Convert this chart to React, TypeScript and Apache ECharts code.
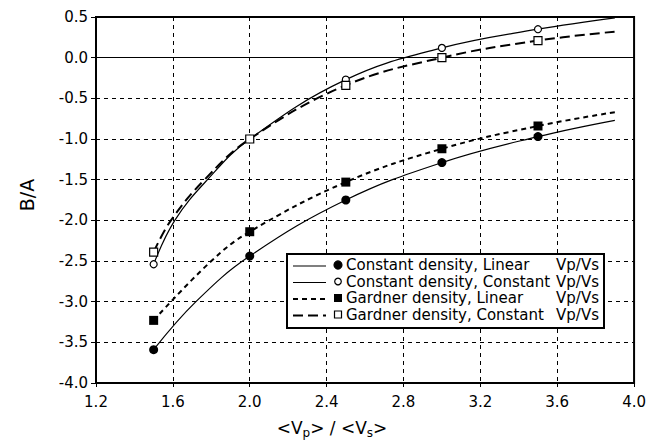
import React, { useEffect, useRef } from "react";
import * as echarts from "echarts";

// Marker positions (x) and values
const xPoints = [1.5, 2.0, 2.5, 3.0, 3.5];
const constLinear = [-3.59, -2.44, -1.75, -1.29, -0.97];
const constConst = [-2.54, -1.0, -0.27, 0.12, 0.35];
const gardLinear = [-3.23, -2.14, -1.53, -1.12, -0.84];
const gardConst = [-2.39, -1.0, -0.34, 0.0, 0.21];

// Fitted curves
const constLinearCurveX = [1.5, 1.72, 2.0, 2.5, 3.0, 3.5, 3.9];
const constLinearCurveY = [-3.59, -3.0, -2.44, -1.75, -1.29, -0.97, -0.77];
const constConstCurveX = [1.5, 1.61, 1.78, 2.0, 2.5, 3.0, 3.5, 3.9];
const constConstCurveY = [-2.54, -2.0, -1.5, -1.0, -0.27, 0.12, 0.35, 0.49];
const gardLinearCurveX = [1.5, 1.8, 2.0, 2.5, 3.0, 3.5, 3.9];
const gardLinearCurveY = [-3.23, -2.5, -2.14, -1.53, -1.12, -0.84, -0.67];
const gardConstCurveX = [1.5, 1.59, 1.765, 2.0, 2.5, 3.0, 3.5, 3.9];
const gardConstCurveY = [-2.39, -2.0, -1.5, -1.0, -0.34, 0.0, 0.21, 0.32];

const legendLabels = [
  "Constant density, Linear",
  "Constant density, Constant",
  "Gardner density, Linear",
  "Gardner density, Constant",
];
const legendSuffix = "Vp/Vs";

const FONT = "DejaVu Sans";

function zip(xs: number[], ys: number[]) {
  return xs.map((x, i) => [x, ys[i]]);
}

export default function App() {
  const ref = useRef<HTMLDivElement>(null);
  useEffect(() => {
    const chart = echarts.init(ref.current!, undefined, { renderer: "svg" });
    const black = "#000";
    const lineSeries = (data: number[][], type: any, width: number) => ({
      type: "line",
      data,
      smooth: 0.4,
      showSymbol: false,
      symbol: "none",
      lineStyle: { color: black, width, type },
      z: 3,
    });
    const scatter = (data: number[][], symbol: string, filled: boolean, size: number) => ({
      type: "scatter",
      data,
      symbol,
      symbolSize: size,
      itemStyle: {
        color: filled ? black : "#fff",
        borderColor: black,
        borderWidth: filled ? 0 : 1.2,
        opacity: 1,
      },
      z: 5,
    });
    const rowY = [265, 281.5, 298, 314.5];
    const legendGraphics: any[] = [
      {
        type: "rect",
        shape: { x: 287, y: 254, width: 317, height: 74 },
        style: { fill: "#fff", stroke: black, lineWidth: 2 },
        z: 10,
      },
    ];
    const lineTypes: any[] = [
      { lineDash: null, lineWidth: 1.2 },
      { lineDash: null, lineWidth: 1.2 },
      { lineDash: [5, 4], lineWidth: 2 },
      { lineDash: [10, 5], lineWidth: 2 },
    ];
    rowY.forEach((y, i) => {
      legendGraphics.push({
        type: "line",
        shape: { x1: 293, y1: y + 1, x2: 326, y2: y + 1 },
        style: { stroke: black, lineWidth: lineTypes[i].lineWidth, lineDash: lineTypes[i].lineDash },
        z: 11,
      });
      if (i < 2) {
        legendGraphics.push({
          type: "circle",
          shape: { cx: 338, cy: y, r: i === 0 ? 4 : 3.3 },
          style: { fill: i === 0 ? black : "#fff", stroke: black, lineWidth: 1.2 },
          z: 11,
        });
      } else {
        const s = i === 2 ? 8 : 7;
        legendGraphics.push({
          type: "rect",
          shape: { x: 338 - s / 2, y: y - s / 2, width: s, height: s },
          style: { fill: i === 2 ? black : "#fff", stroke: black, lineWidth: i === 2 ? 0 : 1.2 },
          z: 11,
        });
      }
      legendGraphics.push({
        type: "text",
        x: 346,
        y,
        style: {
          text: legendLabels[i],
          font: `15px "${FONT}"`,
          fill: black,
          textVerticalAlign: "middle",
          textAlign: "left",
        },
        z: 11,
      });
      legendGraphics.push({
        type: "text",
        x: 599,
        y,
        style: {
          text: legendSuffix,
          font: `15px "${FONT}"`,
          fill: black,
          textVerticalAlign: "middle",
          textAlign: "right",
        },
        z: 11,
      });
    });

    chart.setOption({
      animation: false,
      backgroundColor: "#fff",
      textStyle: { fontFamily: FONT },
      grid: {
        left: 96,
        top: 17,
        right: 13,
        bottom: 57,
        show: true,
        borderColor: black,
        borderWidth: 2,
        backgroundColor: "transparent",
      },
      xAxis: {
        type: "value",
        min: 1.2,
        max: 4.0,
        interval: 0.4,
        axisLine: { show: true, onZero: false, lineStyle: { color: black, width: 2 } },
        axisTick: { show: true, inside: false, length: 4, lineStyle: { color: black, width: 1 } },
        axisLabel: {
          color: black,
          fontSize: 15,
          fontFamily: FONT,
          margin: 11,
          formatter: (v: number) => v.toFixed(1),
        },
        splitLine: { show: true, lineStyle: { color: black, width: 1, type: [4, 4] } },
      },
      yAxis: {
        type: "value",
        min: -4.0,
        max: 0.5,
        interval: 0.5,
        axisLine: { show: true, onZero: false, lineStyle: { color: black, width: 2 } },
        axisTick: { show: true, inside: false, length: 5, lineStyle: { color: black, width: 1 } },
        axisLabel: {
          color: black,
          fontSize: 15,
          fontFamily: FONT,
          margin: 8,
          formatter: (v: number) => v.toFixed(1),
        },
        splitLine: { show: true, lineStyle: { color: black, width: 1, type: [4, 4] } },
      },
      series: [
        {
          ...lineSeries(zip(constLinearCurveX, constLinearCurveY), "solid", 1.2),
          markLine: {
            silent: true,
            symbol: "none",
            label: { show: false },
            lineStyle: { color: black, width: 1, type: "solid" },
            data: [{ yAxis: 0 }],
          },
        },
        lineSeries(zip(constConstCurveX, constConstCurveY), "solid", 1.2),
        lineSeries(zip(gardLinearCurveX, gardLinearCurveY), [5, 4], 2),
        lineSeries(zip(gardConstCurveX, gardConstCurveY), [10, 5], 2),
        scatter(zip(xPoints, constLinear), "circle", true, 9),
        scatter(zip(xPoints, constConst), "circle", false, 7),
        scatter(zip(xPoints, gardLinear), "rect", true, 9),
        scatter(zip(xPoints, gardConst), "rect", false, 8),
      ],
      graphic: [
        ...legendGraphics,
        {
          type: "text",
          x: 27,
          y: 195,
          rotation: Math.PI / 2,
          style: {
            text: "B/A",
            font: `19px "${FONT}"`,
            fill: black,
            textAlign: "center",
            textVerticalAlign: "middle",
          },
        },
        {
          type: "text",
          x: 332,
          y: 428,
          style: {
            text: "<V{sub|p}> / <V{sub|s}>",
            fill: black,
            fontSize: 17,
            fontFamily: FONT,
            textAlign: "center",
            textVerticalAlign: "middle",
            rich: {
              sub: { fontSize: 12, fontFamily: FONT, padding: [10, 0, 0, 0] },
            },
          },
        },
      ],
    });
    return () => chart.dispose();
  }, []);
  return <div ref={ref} style={{ width: 649, height: 440, position: "absolute", left: 0, top: 0 }} />;
}
